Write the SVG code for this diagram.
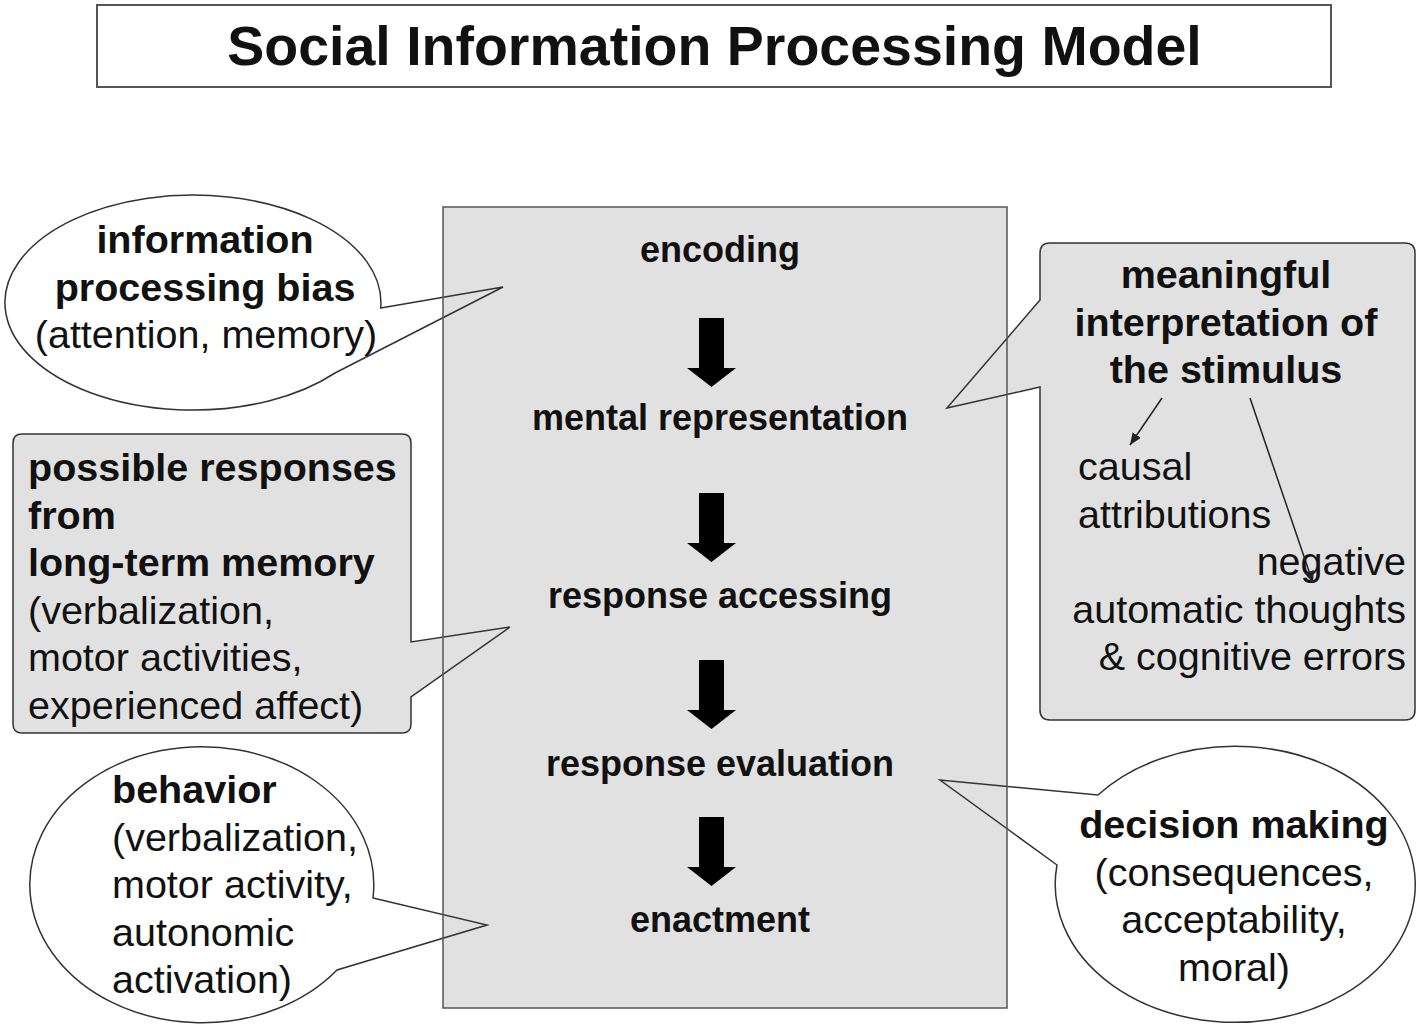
<svg xmlns="http://www.w3.org/2000/svg" width="1418" height="1025" viewBox="0 0 1418 1025">
<style>
text{font-family:"Liberation Sans",Arial,sans-serif;fill:#111}
.b{font-weight:bold}
.t{font-size:39.5px}
.step{font-size:36px;font-weight:bold;text-anchor:middle}
.c{text-anchor:middle}
.r{text-anchor:end}
.co{stroke:#333;stroke-width:1.5;stroke-linejoin:miter}
.blk{fill:#000}
.thin{stroke:#222;stroke-width:1.5;fill:none}
</style>
<defs>
<marker id="ah" markerUnits="userSpaceOnUse" markerWidth="14" markerHeight="12" refX="12" refY="5" orient="auto">
<path d="M0,0 L12,5 L0,10 Z" fill="#222"/>
</marker>
</defs>
<rect width="1418" height="1025" fill="#fff"/>

<g id="title">
<rect x="97" y="5" width="1234" height="82" fill="#fff" stroke="#555" stroke-width="2"/>
<text x="714.5" y="65" class="b c" style="font-size:55.5px">Social Information Processing Model</text>
</g>

<g id="process-box-fill">
<rect x="443" y="207" width="564" height="801" fill="#e1e1e1"/>
</g>

<g id="callout-bias">
<path class="co" fill="none" d="M380.7,308 L503,287 L335,373 A188 107.5 0 1 1 380.7,308 Z"/>
<text class="t b c" x="205" y="253">information</text>
<text class="t b c" x="205" y="300.5">processing bias</text>
<text class="t c" x="206" y="348">(attention, memory)</text>
</g>

<g id="callout-responses">
<path class="co" fill="#e1e1e1" d="M22,434 H402 Q411,434 411,443 V642 L510,627 L411,697 V724 Q411,733 402,733 H22 Q13,733 13,724 V443 Q13,434 22,434 Z"/>
<text class="t b" x="28" y="481">possible responses</text>
<text class="t b" x="28" y="528.5">from</text>
<text class="t b" x="28" y="576">long-term memory</text>
<text class="t" x="28" y="623.5">(verbalization,</text>
<text class="t" x="28" y="671">motor activities,</text>
<text class="t" x="28" y="718.5">experienced affect)</text>
</g>

<g id="callout-behavior">
<path class="co" fill="none" d="M373,898 L487,925 L337,970 A172 138 0 1 1 373,898 Z"/>
<text class="t b" x="112" y="803">behavior</text>
<text class="t" x="112" y="850.5">(verbalization,</text>
<text class="t" x="112" y="898">motor activity,</text>
<text class="t" x="112" y="945.5">autonomic</text>
<text class="t" x="112" y="993">activation)</text>
</g>

<g id="callout-interpretation">
<path class="co" fill="#e1e1e1" d="M1050,243 H1405 Q1415,243 1415,253 V710 Q1415,720 1405,720 H1050 Q1040,720 1040,710 V387 L947,408 L1040,300 V253 Q1040,243 1050,243 Z"/>
<text class="t b c" x="1226" y="288">meaningful</text>
<text class="t b c" x="1226" y="335.5">interpretation of</text>
<text class="t b c" x="1226" y="383">the stimulus</text>
<text class="t" x="1078" y="480">causal</text>
<text class="t" x="1078" y="527.5">attributions</text>
<text class="t r" x="1406" y="575">negative</text>
<text class="t r" x="1406" y="622.5">automatic thoughts</text>
<text class="t r" x="1406" y="670">&amp; cognitive errors</text>
</g>

<g id="callout-decision">
<path class="co" fill="none" d="M1057,865 L940,780 L1098,795 A180 138 0 1 1 1057,865 Z"/>
<text class="t b c" x="1234" y="838">decision making</text>
<text class="t c" x="1234" y="885.5">(consequences,</text>
<text class="t c" x="1234" y="933">acceptability,</text>
<text class="t c" x="1234" y="980.5">moral)</text>
</g>

<g id="process-box">
<rect x="443" y="207" width="564" height="801" fill="none" stroke="#555" stroke-width="1.5"/>
</g>

<g id="step-encoding"><text class="step" x="720" y="262">encoding</text></g>
<g id="step-mental-representation"><text class="step" x="720" y="430">mental representation</text></g>
<g id="step-response-accessing"><text class="step" x="720" y="608">response accessing</text></g>
<g id="step-response-evaluation"><text class="step" x="720" y="776">response evaluation</text></g>
<g id="step-enactment"><text class="step" x="720" y="932">enactment</text></g>

<g id="connectors">
<path class="blk" d="M699,318 H724 V368 H736 L711.5,387 L687,368 H699 Z"/>
<path class="blk" d="M699,493 H724 V543 H736 L711.5,562 L687,543 H699 Z"/>
<path class="blk" d="M699,660 H724 V710 H736 L711.5,729 L687,710 H699 Z"/>
<path class="blk" d="M699,817 H724 V867 H736 L711.5,886 L687,867 H699 Z"/>
<line class="thin" x1="1162" y1="398" x2="1130" y2="445" marker-end="url(#ah)"/>
<line class="thin" x1="1250" y1="398" x2="1313" y2="583" marker-end="url(#ah)"/>
</g>
</svg>
